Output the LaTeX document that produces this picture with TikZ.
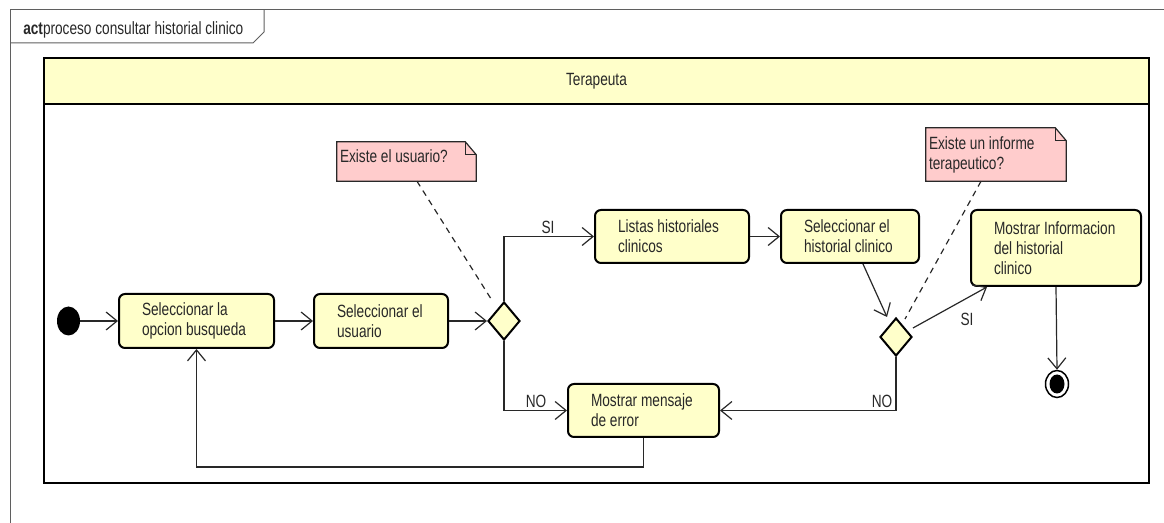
\documentclass[tikz,border=0pt]{standalone}
\usepackage{fontspec}
\setmainfont{Liberation Sans}[FakeStretch=0.77]
\usetikzlibrary{arrows.meta,shapes.geometric,calc}
\newdimen\pxd \pxd=0.75pt
\definecolor{actfill}{RGB}{255,255,202}
\definecolor{notefill}{RGB}{255,204,204}
\definecolor{framegray}{RGB}{95,95,95}
\definecolor{inkgray}{RGB}{40,40,40}

\begin{document}
\begin{tikzpicture}[x=0.75pt,y=-0.75pt,
  every node/.style={font=\fontsize{13.3}{15}\selectfont, text=inkgray},
  act/.style={draw, line width=2\pxd, rounded corners=6\pxd, fill=actfill,
    align=flush left, inner sep=0pt},
  dec/.style={diamond, draw, line width=2\pxd, fill=actfill,
    minimum width=32\pxd, minimum height=38\pxd, inner sep=0pt},
  notest/.style={draw=inkgray, line width=1.2\pxd, fill=notefill},
  notetext/.style={anchor=north west, inner sep=0pt, align=flush left},
  flow/.style={draw=inkgray, line width=1.2\pxd,
    -{Straight Barb[length=8.25pt,width=13.5pt]}},
  link/.style={draw=inkgray, line width=1.2\pxd, dash pattern=on 6\pxd off 5\pxd},
  lbl/.style={inner sep=0pt},
  framest/.style={draw=framegray, line width=1\pxd}
]
\useasboundingbox (0,0) rectangle (1164,523);

% diagram frame and its name tab
\draw[framest] (10,523) -- (10,10) -- (1164,10);
\draw[framest] (10,43) -- (253,43) -- (264,32) -- (264,10);
\node[anchor=base west, inner sep=0pt] (title) at (23,35)
  {\textbf{act}proceso consultar historial clinico};

% swimlane
\node[draw, line width=2\pxd, minimum width=1105\pxd, minimum height=425\pxd,
  inner sep=0pt] (lane) at (596.5,270.5) {};
\node[draw, line width=2\pxd, fill=actfill, minimum width=1105\pxd,
  minimum height=46\pxd, anchor=north, inner sep=0pt] (hdr) at (lane.north) {Terapeuta};

% notes
\node[minimum width=139\pxd, minimum height=39\pxd, inner sep=0pt] (n1) at (406.5,161.5) {};
\node[minimum width=140\pxd, minimum height=53\pxd, inner sep=0pt] (n2) at (996,154.5) {};
\foreach \n in {n1,n2}{
  \filldraw[notest] (\n.south west) -- (\n.north west) -- ([xshift=-11\pxd]\n.north east)
    -- ([yshift=-13\pxd]\n.north east) -- (\n.south east) -- cycle;
  \draw[notest, fill=none] ([xshift=-11\pxd]\n.north east) -- ++(0,13)
    -- ([yshift=-13\pxd]\n.north east);
}
\node[notetext] (n1t) at ($(n1.north west)+(3,8)$) {Existe el usuario?};
\node[notetext] (n2t) at ($(n2.north west)+(3,9)$) {Existe~un~informe\\terapeutico?};

% initial and final nodes
\node[ellipse, fill=black, minimum width=23\pxd, minimum height=29\pxd, inner sep=0pt] (ini) at (68.5,321) {};
\node[ellipse, draw, line width=1.5\pxd, fill=white, minimum width=23\pxd,
  minimum height=27\pxd, inner sep=0pt] (fin) at (1057,384) {};
\fill (fin.center) ellipse [x radius=7.5\pxd, y radius=9.5\pxd];

% actions
\node[act, minimum width=155\pxd, minimum height=54\pxd, text width=109\pxd] (a1) at (196.5,321)
  {Seleccionar~la\\opcion~busqueda};
\node[act, minimum width=134\pxd, minimum height=54\pxd, text width=88\pxd] (a2) at (381,321)
  {Seleccionar~el\\usuario};
\node[act, minimum width=154\pxd, minimum height=53\pxd, text width=108\pxd] (a3) at (672,236.5)
  {Listas~historiales\\clinicos};
\node[act, minimum width=138\pxd, minimum height=53\pxd, text width=92\pxd] (a4) at (850,236.5)
  {Seleccionar~el\\historial~clinico};
\node[act, minimum width=151\pxd, minimum height=53\pxd, text width=105\pxd] (a5) at (643.5,410.5)
  {Mostrar~mensaje\\de~error};
\node[act, minimum width=170\pxd, minimum height=76\pxd, text width=124\pxd] (a6) at (1056,248)
  {Mostrar~Informacion\\del~historial\\clinico};

% decisions
\node[dec] (d1) at (504,321) {};
\node[dec] (d2) at (896,337) {};

% note links
\draw[link] ([xshift=10.5\pxd]n1.south) -- ([xshift=-11\pxd,yshift=-1\pxd]d1.north);
\draw[link] ([xshift=-15\pxd]n2.south) -- ([xshift=9\pxd,yshift=-2\pxd]d2.north);

% control flow
\draw[flow] (ini) -- (a1);
\draw[flow] (a1) -- (a2);
\draw[flow] (a2) -- (d1);
\draw[flow] (d1.north) |- (a3.west);
\draw[flow] (d1.south) |- (a5.west);
\draw[flow] (a3) -- (a4);
\draw[flow] ([xshift=13\pxd]a4.south) -- ([xshift=-9\pxd]d2.north);
\draw[flow] ([yshift=9\pxd]d2.east) -- ([xshift=17\pxd]a6.south west);
\draw[flow] (d2.south) |- (a5.east);
\draw[flow] (a5.south) -- ++(0,29) -| (a1.south);
\draw[flow] (a6.south) -- (fin.north);

% guard labels
\node[lbl] (g1) at (548,227) {SI};
\node[lbl] (g2) at (536,401) {NO};
\node[lbl] (g3) at (882,401) {NO};
\node[lbl] (g4) at (967,319) {SI};
\end{tikzpicture}
\end{document}
